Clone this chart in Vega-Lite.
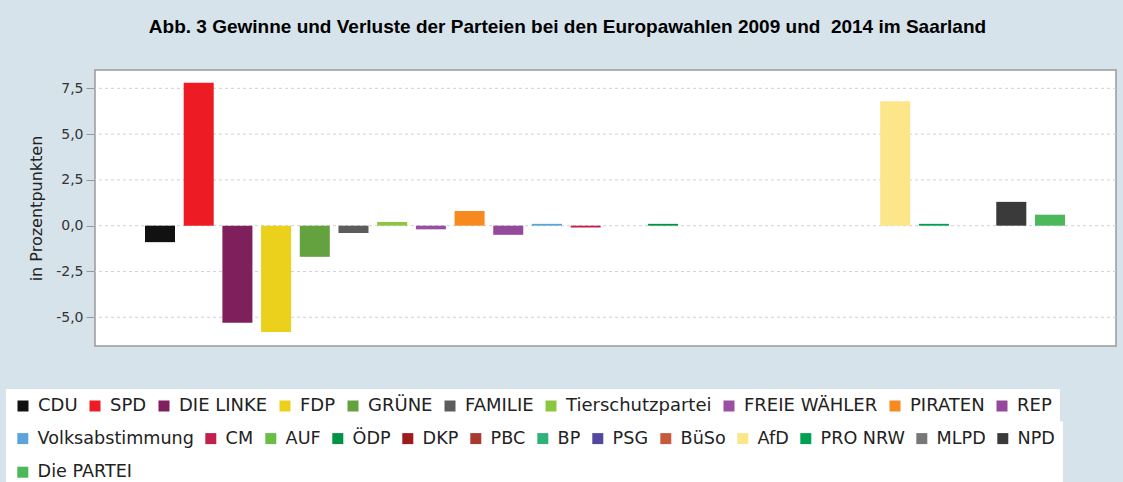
{
  "$schema": "https://vega.github.io/schema/vega-lite/v6.json",
  "width": 1021,
  "height": 276,
  "autosize": {"type": "none"},
  "padding": {"left": 95, "top": 70, "right": 7, "bottom": 136},
  "background": "#d7e3eb",
  "title": {
    "text": "Abb. 3 Gewinne und Verluste der Parteien bei den Europawahlen 2009 und\u00a0 2014 im Saarland",
    "font": "Liberation Sans",
    "fontSize": 19,
    "fontWeight": "bold",
    "color": "#000000",
    "anchor": "middle",
    "offset": 33,
    "dx": -38
  },
  "datasets": {
    "changes": [
      {"party": "CDU", "change": -0.9},
      {"party": "SPD", "change": 7.8},
      {"party": "DIE LINKE", "change": -5.3},
      {"party": "FDP", "change": -5.8},
      {"party": "GRÜNE", "change": -1.7},
      {"party": "FAMILIE", "change": -0.4},
      {"party": "Tierschutzpartei", "change": 0.2},
      {"party": "FREIE WÄHLER", "change": -0.2},
      {"party": "PIRATEN", "change": 0.8},
      {"party": "REP", "change": -0.5},
      {"party": "Volksabstimmung", "change": 0.1},
      {"party": "CM", "change": -0.1},
      {"party": "AUF", "change": 0},
      {"party": "ÖDP", "change": 0.1},
      {"party": "DKP", "change": 0},
      {"party": "PBC", "change": 0},
      {"party": "BP", "change": 0},
      {"party": "PSG", "change": 0},
      {"party": "BüSo", "change": 0},
      {"party": "AfD", "change": 6.8},
      {"party": "PRO NRW", "change": 0.1},
      {"party": "MLPD", "change": 0},
      {"party": "NPD", "change": 1.3},
      {"party": "Die PARTEI", "change": 0.6}
    ],
    "gridlines": [
      {"change": -5}, {"change": -2.5}, {"change": 0}, {"change": 2.5}, {"change": 5}, {"change": 7.5}
    ]
  },
  "encoding": {
    "y": {
      "field": "change",
      "type": "quantitative",
      "scale": {"domain": [-6.57, 8.5], "nice": false, "zero": false},
      "axis": {
        "title": "in Prozentpunkten",
        "titleFont": "DejaVu Sans",
        "titleFontSize": 16,
        "titleFontWeight": "normal",
        "titleColor": "#222222",
        "titlePadding": 11,
        "values": [-5, -2.5, 0, 2.5, 5, 7.5],
        "labelExpr": "(datum.value < 0 ? '-' : '') + replace(format(abs(datum.value), '.1f'), '.', ',')",
        "labelFont": "DejaVu Sans",
        "labelFontSize": 14,
        "labelColor": "#333333",
        "labelPadding": 3,
        "tickSize": 9,
        "tickColor": "#999999",
        "domain": false,
        "grid": false
      }
    }
  },
  "layer": [
    {
      "data": {"name": "gridlines"},
      "mark": {"type": "rule", "color": "#d0d0d0", "strokeWidth": 1, "strokeDash": [3, 3]},
      "encoding": {}
    },
    {
      "data": {"name": "changes"},
      "transform": [{"filter": {"field": "party", "oneOf": ["CDU", "SPD", "DIE LINKE", "FDP", "GRÜNE", "FAMILIE", "Tierschutzpartei", "FREIE WÄHLER", "PIRATEN", "REP"]}}],
      "mark": {"type": "bar"},
      "encoding": {
        "x": {
          "field": "party",
          "type": "nominal",
          "scale": {
            "domain": ["CDU", "SPD", "DIE LINKE", "FDP", "GRÜNE", "FAMILIE", "Tierschutzpartei", "FREIE WÄHLER", "PIRATEN", "REP", "Volksabstimmung", "CM", "AUF", "ÖDP", "DKP", "PBC", "BP", "PSG", "BüSo", "AfD", "PRO NRW", "MLPD", "NPD", "Die PARTEI"],
            "range": [50, 970],
            "paddingInner": 0.224,
            "paddingOuter": 0
          },
          "axis": null
        },
        "color": {
          "field": "party",
          "type": "nominal",
          "scale": {
            "domain": ["CDU", "SPD", "DIE LINKE", "FDP", "GRÜNE", "FAMILIE", "Tierschutzpartei", "FREIE WÄHLER", "PIRATEN", "REP"],
            "range": ["#111111", "#ed1c24", "#7f1f5b", "#ebd01c", "#64a23f", "#5c5c5c", "#8cc63e", "#9a4fa2", "#f7891f", "#94499d"]
          },
          "legend": {
            "orient": "none",
            "legendX": -89,
            "legendY": 319,
            "direction": "horizontal",
            "title": null,
            "fillColor": "white",
            "padding": 8,
            "symbolType": "square",
            "symbolSize": 121,
            "symbolStrokeWidth": 0,
            "symbolOpacity": 1,
            "labelFont": "DejaVu Sans",
            "labelFontSize": 18,
            "labelColor": "#222222",
            "labelOffset": 6,
            "labelLimit": 400,
            "columnPadding": 8
          }
        }
      }
    },
    {
      "data": {"name": "changes"},
      "transform": [{"filter": {"field": "party", "oneOf": ["Volksabstimmung", "CM", "AUF", "ÖDP", "DKP", "PBC", "BP", "PSG", "BüSo", "AfD", "PRO NRW", "MLPD", "NPD", "Die PARTEI"]}}],
      "mark": {"type": "bar"},
      "encoding": {
        "x": {
          "field": "party",
          "type": "nominal",
          "scale": {
            "domain": ["CDU", "SPD", "DIE LINKE", "FDP", "GRÜNE", "FAMILIE", "Tierschutzpartei", "FREIE WÄHLER", "PIRATEN", "REP", "Volksabstimmung", "CM", "AUF", "ÖDP", "DKP", "PBC", "BP", "PSG", "BüSo", "AfD", "PRO NRW", "MLPD", "NPD", "Die PARTEI"],
            "range": [50, 970],
            "paddingInner": 0.224,
            "paddingOuter": 0
          },
          "axis": null
        },
        "color": {
          "field": "party",
          "type": "nominal",
          "scale": {
            "domain": ["Volksabstimmung", "CM", "AUF", "ÖDP", "DKP", "PBC", "BP", "PSG", "BüSo", "AfD", "PRO NRW", "MLPD", "NPD", "Die PARTEI"],
            "range": ["#5ba4db", "#c1204e", "#6abd45", "#009245", "#9b1b1f", "#a93a2f", "#2fb27a", "#5447a0", "#c65a3c", "#fde68a", "#00a052", "#777777", "#3a3a3a", "#4cb85a"]
          },
          "legend": {
            "orient": "none",
            "legendX": -89,
            "legendY": 351.5,
            "direction": "horizontal",
            "columns": 13,
            "title": null,
            "fillColor": "white",
            "padding": 8,
            "symbolType": "square",
            "symbolSize": 121,
            "symbolStrokeWidth": 0,
            "symbolOpacity": 1,
            "labelFont": "DejaVu Sans",
            "labelFontSize": 17.6,
            "labelColor": "#222222",
            "labelOffset": 6,
            "labelLimit": 400,
            "columnPadding": 8,
            "rowPadding": 14.9
          }
        }
      }
    }
  ],
  "resolve": {"scale": {"color": "independent"}},
  "config": {
    "view": {"fill": "white", "stroke": "#9a9a9a", "strokeWidth": 1.5}
  }
}
